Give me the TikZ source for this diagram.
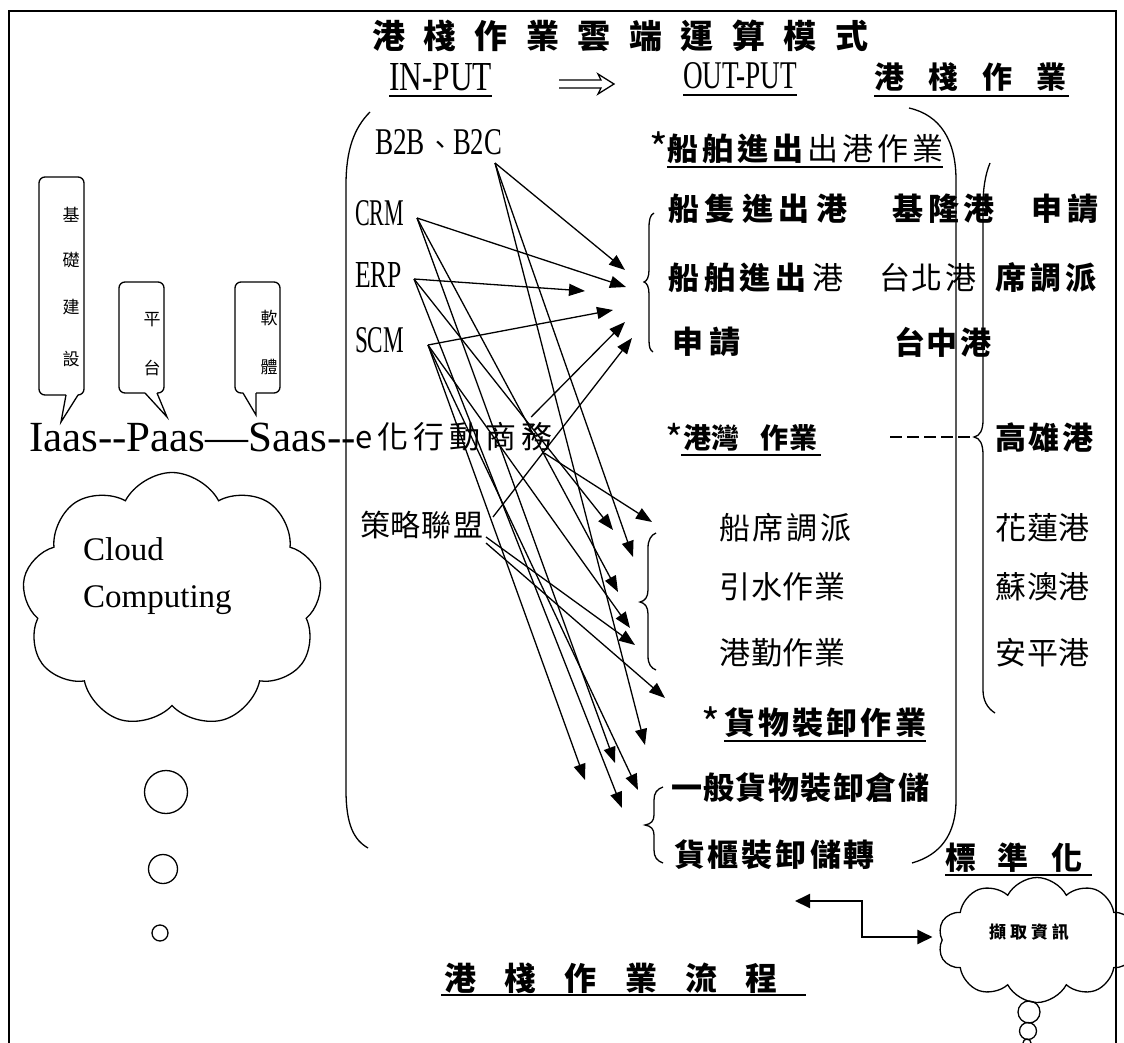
\documentclass[tikz,border=0pt]{standalone}
\usepackage{fontspec}
\setmainfont{Liberation Serif}
\newfontfamily\cjk{Noto Sans CJK TC}
\usetikzlibrary{arrows.meta,shapes.symbols}
\makeatletter
\newcommand\lsp[2]{\def\lsp@sep{\hspace{#1}}\lsp@first#2\@nil}
\def\lsp@first#1{\ifx\@nil#1\else#1\expandafter\lsp@rest\fi}
\def\lsp@rest#1{\ifx\@nil#1\else\lsp@sep#1\expandafter\lsp@rest\fi}
\makeatother
\newcommand\condtxt[3]{\resizebox{#1}{#2}{#3}}
\tikzset{
  txt/.style={inner sep=0pt, outer sep=0pt, anchor=west},
  cj/.style={txt, font=\cjk\fontsize{#1}{#1}\selectfont},
  cjb/.style={txt, font=\cjk\bfseries\fontsize{#1}{#1}\selectfont},
  conn/.style={line width=1.3pt, -{Triangle[length=16pt,width=12pt]}},
  frm/.style={line width=1.5pt},
  uline/.style={line width=2pt},
  brc/.style={line width=1.3pt},
  bubble/.style={circle, draw, line width=1.3pt, inner sep=0pt},
  callout/.style={line width=1.3pt},
  dblarrow/.style={line width=1.3pt, line join=miter},
}
\begin{document}
\begin{tikzpicture}[x=1pt,y=-1pt]
\useasboundingbox (0,0) rectangle (1124,1043);
% frame
\coordinate (fbl) at (9,1045); \coordinate (ftl) at (9,11);
\coordinate (ftr) at (1116,11); \coordinate (fbr) at (1116,1045);
\draw[frm] (fbl) -- (ftl) -- (ftr) -- (fbr);

% title
\node[cjb=33] (title) at (372,36) {\lsp{18.5pt}{港棧作業雲端運算模式}};

% header row
\node[txt] (inp) at (389,77) {\condtxt{103pt}{27pt}{IN-PUT}};
\draw[uline] ([yshift=-5pt]inp.south west) -- ([yshift=-5pt]inp.south east);
\coordinate (da1) at (559,84); \coordinate (da2) at (614,84);
\draw[dblarrow] ([yshift=4pt]da1) -- ([shift={(-13pt,4pt)}]da2) -- ([shift={(-16pt,10pt)}]da2) -- (da2) -- ([shift={(-16pt,-10pt)}]da2) -- ([shift={(-13pt,-4pt)}]da2) -- ([yshift=-4pt]da1);
\node[txt] (outp) at (683,76) {\condtxt{114pt}{26pt}{OUT-PUT}};
\draw[uline] ([yshift=-6pt]outp.south west) -- ([yshift=-6pt]outp.south east);
\node[cjb=30] (hdr) at (874,77) {\lsp{24pt}{港棧作業}};
\draw[uline] ([yshift=-5pt]hdr.south west) -- ([xshift=3pt,yshift=-5pt]hdr.south east);

% input list
\node[txt] (b2b) at (375,142) {\condtxt{50pt}{25pt}{B2B}\hspace{2pt}{\cjk\fontsize{26}{26}\selectfont 、}\condtxt{49pt}{25pt}{B2C}};
\node[txt] (crm) at (355,213) {\condtxt{49pt}{25pt}{CRM}};
\node[txt] (erp) at (355,275) {\condtxt{47pt}{25pt}{ERP}};
\node[txt] (scm) at (355,340) {\condtxt{49pt}{25pt}{SCM}};
\node[cj=30] (alli) at (360,525) {\lsp{1pt}{策略聯盟}};

% Iaas line
\node[txt, anchor=base west, font=\fontsize{43}{43}\selectfont] (iaas) at (29,451) {Iaas-{}-Paas—Saas-{}-};
\node[cj=31] (emob) at (355,437) {\lsp{5pt}{e化行動商務}};

% callouts
\draw[callout, rounded corners=6pt] (66,395) -- (39,395) -- (39,177) -- (84,177) -- (84,395) -- (78,395);
\draw[callout] (78,395) -- (61,422) -- (66,395);
\draw[callout, rounded corners=6pt] (145,393) -- (119,393) -- (119,282) -- (164,282) -- (164,393) -- (157,393);
\draw[callout] (157,393) -- (167,417) -- (145,393);
\draw[callout, rounded corners=6pt] (256,393) -- (280,393) -- (280,282) -- (235,282) -- (235,393) -- (243,393);
\draw[callout] (243,393) -- (256,415) -- (256,393);
\node[cj=17, anchor=center] (ta1) at (71,215) {基};
\node[cj=17, anchor=center] (ta2) at (71,260) {礎};
\node[cj=17, anchor=center] (ta3) at (71,307) {建};
\node[cj=17, anchor=center] (ta4) at (71,359) {設};
\node[cj=17, anchor=center] (tb1) at (152,320) {平};
\node[cj=17, anchor=center] (tb2) at (152,368) {台};
\node[cj=17, anchor=center] (tc1) at (269,318) {軟};
\node[cj=17, anchor=center] (tc2) at (269,367) {體};

% cloud computing
\node[cloud, cloud puffs=9, cloud puff arc=125, cloud ignores aspect, draw, line width=1.3pt, minimum width=300pt, minimum height=255pt] (cld1) at (172,600) {};
\node[anchor=base west, inner sep=0pt, font=\fontsize{33}{33}\selectfont] (cldt1) at (83,560) {Cloud};
\node[anchor=base west, inner sep=0pt, font=\fontsize{33}{33}\selectfont] (cldt2) at (83,607) {Computing};
\node[bubble, minimum size=43pt] (bb1) at (166,792) {};
\node[bubble, minimum size=29pt] (bb2) at (163,869) {};
\node[bubble, minimum size=16pt] (bb3) at (160,933) {};

% big parens and braces
\draw[brc] (370,112) .. controls (354,128) and (346,150) .. (346,185) -- (346,790) .. controls (346,825) and (354,840) .. (368,848);
\draw[brc] (909,108) .. controls (940,115) and (956,140) .. (956,180) -- (956,800) .. controls (956,835) and (940,855) .. (912,863);
\coordinate (btip) at (974,437);
\draw[brc] (990,163) .. controls (985,175) and (983,190) .. (983,205) -- (983,420) .. controls (983,430) and (980,436) .. (btip) .. controls (980,438) and (983,444) .. (983,455) -- (983,690) .. controls (983,700) and (987,708) .. (995,713);
\draw[brc] (654,213) .. controls (650,215) and (649,220) .. (649,228) -- (649,270) .. controls (649,277) and (647,281) .. (644,282) .. controls (647,283) and (649,287) .. (649,294) -- (649,340) .. controls (649,347) and (650,350) .. (653,352);
\draw[brc] (656,533) .. controls (651,535) and (648,540) .. (648,548) -- (648,590) .. controls (648,597) and (645,601) .. (640,602) .. controls (645,603) and (648,607) .. (648,614) -- (648,656) .. controls (648,664) and (651,668) .. (656,670);
\draw[brc] (663,787) .. controls (657,789) and (654,793) .. (654,800) -- (654,815) .. controls (654,821) and (651,824) .. (645,825) .. controls (651,826) and (654,829) .. (654,835) -- (654,850) .. controls (654,857) and (657,861) .. (663,863);

% output rows
\node[cj=40] (ast0) at (649,148) {*};
\node[cj=31] (r0) at (667,149) {{\bfseries\lsp{4pt}{船舶進出}}\hspace{4pt}\lsp{4pt}{出港作業}};
\draw[uline] ([yshift=-3pt]r0.south west) -- ([yshift=-3pt]r0.south east);
\node[cjb=31] (r1a) at (668,209) {\lsp{6pt}{船隻進出港}};
\node[cjb=31] (r1b) at (892,209) {\lsp{5pt}{基隆港}};
\node[cjb=31] (r1c) at (1031,209) {\lsp{5pt}{申請}};
\node[cj=31] (r2a) at (668,278) {{\bfseries\lsp{5pt}{船舶進出}}\hspace{5pt}港};
\node[cj=31] (r2b) at (879,278) {\lsp{2pt}{台北港}};
\node[cjb=31] (r2c) at (995,278) {\lsp{4pt}{席調派}};
\node[cjb=31] (r3a) at (672,342) {\lsp{7pt}{申請}};
\node[cjb=31] (r3b) at (894,342) {\lsp{2pt}{台中港}};
\node[cj=38] (ast1) at (665,438) {*};
\node[cjb=28] (r4a) at (683,438) {港灣\hspace{21pt}作\hspace{2pt}業};
\draw[uline] ([xshift=-2pt,yshift=-4pt]r4a.south west) -- ([xshift=3pt,yshift=-4pt]r4a.south east);
\coordinate (dsh) at (890,437);
\draw[line width=1.5pt, dash pattern=on 12pt off 5pt] (dsh) -- (btip);
\node[cjb=31] (r4b) at (995,438) {\lsp{3pt}{高雄港}};
\node[cj=31] (r5a) at (719,528) {\lsp{3pt}{船席調派}};
\node[cj=31] (r6a) at (719,587) {\lsp{1pt}{引水作業}};
\node[cj=31] (r7a) at (719,653) {\lsp{1pt}{港勤作業}};
\node[cj=31] (r5b) at (995,528) {\lsp{1pt}{花蓮港}};
\node[cj=31] (r6b) at (995,587) {\lsp{1pt}{蘇澳港}};
\node[cj=31] (r7b) at (995,653) {\lsp{1pt}{安平港}};
\node[cj=40] (ast2) at (701,723) {*};
\node[cjb=31] (r8) at (724,723) {\lsp{3.2pt}{貨物裝卸作業}};
\draw[uline] ([yshift=-3pt]r8.south west) -- ([yshift=-3pt]r8.south east);
\node[cjb=31] (r9) at (671,788) {\lsp{1.5pt}{一般貨物裝卸倉儲}};
\node[cjb=31] (r10) at (674,855) {\lsp{3pt}{貨櫃裝卸儲轉}};
\node[cjb=31] (std) at (945,858) {\lsp{22pt}{標準化}};
\draw[uline] ([yshift=-2pt]std.south west) -- ([xshift=10pt,yshift=-2pt]std.south east);
\node[cjb=32] (flow) at (444,978) {\lsp{28.4pt}{港棧作業流程}};
\draw[uline] ([xshift=-3pt,yshift=-2pt]flow.south west) -- ([xshift=28pt,yshift=-2pt]flow.south east);

% info cloud
\node[cloud, cloud puffs=10, cloud puff arc=125, cloud ignores aspect, draw, line width=1.3pt, minimum width=198pt, minimum height=125pt] (cld2) at (1037,940) {};
\node[cjb=17, anchor=center] (info) at (1029,932) {\lsp{4pt}{擷取資訊}};
\node[bubble, minimum size=22pt] (rb1) at (1029,1012) {};
\node[bubble, minimum size=17pt] (rb2) at (1028,1031) {};
\node[bubble, minimum size=8pt] (rb3) at (1027,1043) {};
\coordinate (el) at (795,901); \coordinate (elm) at (862,920);
\draw[line width=2pt, {Triangle[length=15pt,width=14pt]}-{Triangle[length=15pt,width=14pt]}] (el) -| (elm) |- ([xshift=-9pt,yshift=3pt]cld2.west);

% arrow sources
\coordinate (sB2C) at ([shift={(-7pt,-21pt)}]b2b.east);
\coordinate (sCRM) at ([shift={(13pt,-5pt)}]crm.east);
\coordinate (sERP) at ([shift={(12pt,-4pt)}]erp.east);
\coordinate (sSCM) at ([shift={(24pt,-5pt)}]scm.east);
\coordinate (sE1) at ([shift={(-21pt,20pt)}]emob.east);
\coordinate (sE2) at ([shift={(-8pt,-16pt)}]emob.east);
\coordinate (sS1) at ([shift={(10pt,8pt)}]alli.east);
\coordinate (sS2) at ([shift={(3pt,-12pt)}]alli.east);
\coordinate (sS3) at ([shift={(3pt,-18pt)}]alli.east);
% arrow targets
\coordinate (h1) at (625,270); \coordinate (h2) at (626,287); \coordinate (h3) at (585,291);
\coordinate (h4) at (613,310); \coordinate (h5) at (625,322); \coordinate (h6) at (632,338);
\coordinate (g1) at (652,522); \coordinate (g2) at (613,530); \coordinate (g3) at (633,557);
\coordinate (g4) at (618,592); \coordinate (g5) at (630,628); \coordinate (g6) at (635,645);
\coordinate (g7) at (665,698);
\coordinate (k1) at (645,745); \coordinate (k2) at (615,763); \coordinate (k3) at (585,780);
\coordinate (k4) at (638,790); \coordinate (k5) at (622,808);
\foreach \s/\t in {sB2C/h1,sB2C/g3,sB2C/k1,sCRM/h2,sCRM/g4,sCRM/k2,sERP/h3,sERP/g2,sERP/k5,sSCM/h4,sSCM/g5,sSCM/k3,sSCM/k4,sS1/h6,sS2/g6,sS3/g7,sE1/h5,sE2/g1}
  \draw[conn] (\s) -- (\t);
\end{tikzpicture}
\end{document}
